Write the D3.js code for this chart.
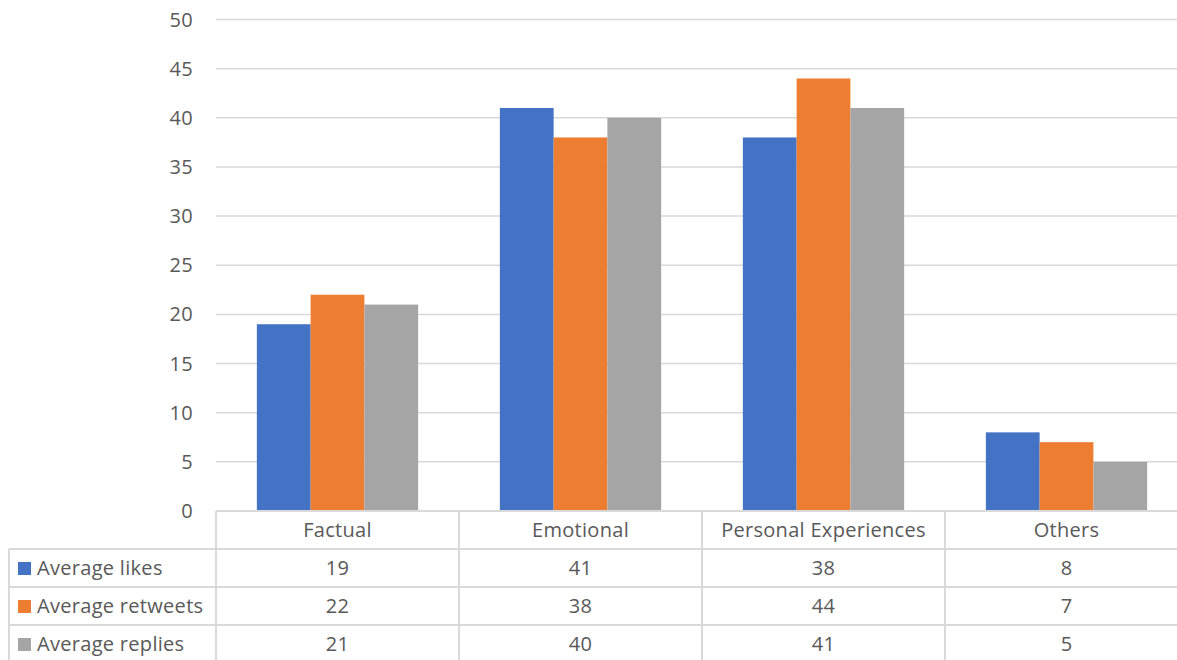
<!DOCTYPE html>
<html>
<head>
<meta charset="utf-8">
<script src="https://cdn.jsdelivr.net/npm/d3@7"></script>
<style>
  body { margin: 0; background: #fff; }
  svg { display: block; font-family: "Open Sans", Lato, sans-serif; letter-spacing: 0.3px; }
</style>
</head>
<body>
<svg id="chart" width="1177" height="660"></svg>
<script>
const categories = ['Factual', 'Emotional', 'Personal Experiences', 'Others'];
const seriesNames = ['Average likes', 'Average retweets', 'Average replies'];
const likes = [19, 41, 38, 8];
const retweets = [22, 38, 44, 7];
const replies = [21, 40, 41, 5];
const yTicks = [0, 5, 10, 15, 20, 25, 30, 35, 40, 45, 50];

const seriesValues = [likes, retweets, replies];
const colors = ['#4472c4', '#ed7d31', '#a5a5a5'];
const textColor = '#595959';
const lineColor = '#d9d9d9';
const fontSize = 20;

const svg = d3.select('#chart');
const width = 1177;

// plot area, the right edge runs past the window like in the screenshot
const plotLeft = 216, plotRight = 1188;
const plotTop = 19.5, plotBottom = 511;
const rowH = 38;

const x = d3.scaleBand().domain(categories).range([plotLeft, plotRight]);
const xs = d3.scaleBand().domain(seriesNames).range([0, x.bandwidth()]).paddingOuter(0.76).paddingInner(0);
const y = d3.scaleLinear().domain([0, 50]).range([plotBottom, plotTop]);

// gridlines
svg.append('g')
  .selectAll('line')
  .data(yTicks.filter(d => d > 0))
  .join('line')
  .attr('x1', plotLeft).attr('x2', width)
  .attr('y1', d => y(d)).attr('y2', d => y(d))
  .attr('stroke', lineColor).attr('stroke-width', 1.5);

// y axis labels
svg.append('g')
  .selectAll('text')
  .data(yTicks)
  .join('text')
  .attr('x', 193)
  .attr('y', d => y(d))
  .attr('dy', '0.35em')
  .attr('text-anchor', 'end')
  .attr('fill', textColor)
  .attr('font-size', fontSize)
  .text(d => d);

// bars
const groups = svg.append('g')
  .selectAll('g')
  .data(categories)
  .join('g')
  .attr('transform', d => `translate(${x(d)},0)`);

groups.selectAll('rect')
  .data((c, i) => seriesNames.map((s, j) => ({ s, j, v: seriesValues[j][i] })))
  .join('rect')
  .attr('x', d => xs(d.s))
  .attr('width', xs.bandwidth())
  .attr('y', d => y(d.v))
  .attr('height', d => y(0) - y(d.v))
  .attr('fill', d => colors[d.j]);

// data table
const table = svg.append('g');
const rowTops = d3.range(4).map(i => plotBottom + i * rowH);
const tableLeft = 9;

// horizontal lines
table.append('line')
  .attr('x1', plotLeft).attr('x2', width)
  .attr('y1', plotBottom).attr('y2', plotBottom)
  .attr('stroke', lineColor).attr('stroke-width', 2);
rowTops.slice(1).concat([plotBottom + 4 * rowH]).forEach(yy => {
  table.append('line')
    .attr('x1', tableLeft).attr('x2', width)
    .attr('y1', yy).attr('y2', yy)
    .attr('stroke', lineColor).attr('stroke-width', 2);
});

// vertical lines
table.append('line')
  .attr('x1', tableLeft).attr('x2', tableLeft)
  .attr('y1', plotBottom + rowH).attr('y2', plotBottom + 4 * rowH)
  .attr('stroke', lineColor).attr('stroke-width', 2);
categories.forEach(c => {
  table.append('line')
    .attr('x1', x(c)).attr('x2', x(c))
    .attr('y1', plotBottom).attr('y2', plotBottom + 4 * rowH)
    .attr('stroke', lineColor).attr('stroke-width', 2);
});

// header
table.selectAll('text.head')
  .data(categories)
  .join('text')
  .attr('class', 'head')
  .attr('x', d => x(d) + x.bandwidth() / 2)
  .attr('y', plotBottom + rowH / 2)
  .attr('dy', '0.35em')
  .attr('text-anchor', 'middle')
  .attr('fill', textColor)
  .attr('font-size', fontSize)
  .text(d => d);

// series rows
seriesNames.forEach((s, j) => {
  const cy = plotBottom + (j + 1) * rowH + rowH / 2;
  table.append('rect')
    .attr('x', 18).attr('y', cy - 6)
    .attr('width', 13).attr('height', 13)
    .attr('fill', colors[j]);
  table.append('text')
    .attr('x', 37).attr('y', cy)
    .attr('dy', '0.35em')
    .attr('fill', textColor)
    .attr('font-size', fontSize)
    .text(s);
  table.selectAll(null)
    .data(categories)
    .join('text')
    .attr('x', d => x(d) + x.bandwidth() / 2)
    .attr('y', cy)
    .attr('dy', '0.35em')
    .attr('text-anchor', 'middle')
    .attr('fill', textColor)
    .attr('font-size', fontSize)
    .text((d, i) => seriesValues[j][i]);
});
</script>
</body>
</html>
